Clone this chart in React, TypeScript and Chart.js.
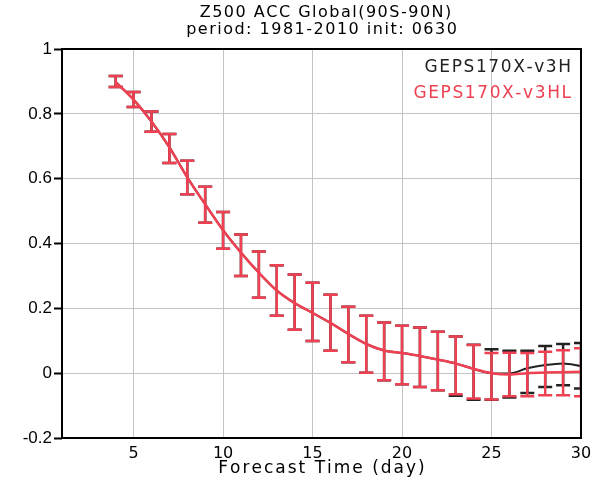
import { useEffect, useRef } from "react";
import { Chart, registerables } from "chart.js";

Chart.register(...registerables);

const days = [4, 5, 6, 7, 8, 9, 10, 11, 12, 13, 14, 15, 16, 17, 18, 19, 20, 21, 22, 23, 24, 25, 26, 27, 28, 29, 30];

// GEPS170X-v3HL (red)
const hlMean = [0.898, 0.844, 0.776, 0.697, 0.604, 0.521, 0.441, 0.372, 0.31, 0.255, 0.216, 0.186, 0.155, 0.121, 0.09, 0.07, 0.062, 0.053, 0.042, 0.03, 0.013, 0.0, -0.004, 0.0, 0.002, 0.003, 0.004];
const hlHigh = [0.917, 0.867, 0.807, 0.738, 0.655, 0.575, 0.497, 0.428, 0.375, 0.333, 0.304, 0.279, 0.242, 0.205, 0.177, 0.156, 0.146, 0.141, 0.128, 0.113, 0.087, 0.062, 0.063, 0.062, 0.066, 0.071, 0.077];
const hlLow = [0.883, 0.821, 0.745, 0.648, 0.552, 0.464, 0.384, 0.3, 0.233, 0.177, 0.134, 0.099, 0.069, 0.034, 0.001, -0.022, -0.034, -0.043, -0.053, -0.065, -0.078, -0.081, -0.071, -0.071, -0.068, -0.068, -0.071];

// GEPS170X-v3H (black)
const hMean = [0.898, 0.844, 0.776, 0.697, 0.604, 0.521, 0.441, 0.372, 0.31, 0.255, 0.216, 0.186, 0.155, 0.121, 0.09, 0.07, 0.062, 0.053, 0.042, 0.03, 0.013, 0.0, -0.001, 0.015, 0.025, 0.03, 0.022];
const hHigh = [0.917, 0.867, 0.807, 0.738, 0.655, 0.575, 0.497, 0.428, 0.375, 0.333, 0.304, 0.279, 0.242, 0.205, 0.177, 0.156, 0.146, 0.141, 0.128, 0.113, 0.088, 0.074, 0.069, 0.069, 0.084, 0.09, 0.093];
const hLow = [0.883, 0.821, 0.745, 0.648, 0.552, 0.464, 0.384, 0.3, 0.233, 0.177, 0.134, 0.099, 0.069, 0.034, 0.001, -0.022, -0.034, -0.043, -0.053, -0.07, -0.082, -0.082, -0.075, -0.061, -0.043, -0.037, -0.047];

const xTicks = [5, 10, 15, 20, 25, 30];
const yTicks = [-0.2, 0, 0.2, 0.4, 0.6, 0.8, 1];

const titleLines = ["Z500 ACC Global(90S-90N)", "period: 1981-2010 init: 0630"];
const legendNames = ["GEPS170X-v3H", "GEPS170X-v3HL"];
const xLabel = "Forecast Time (day)";

const RED = "#ef4152";
const BLACK = "#222222";
const GRADS_FONT = "'DejaVu Sans', sans-serif";

const errorBarPlugin = {
  id: "errorBars",
  afterDatasetDraw(chart: any, args: any) {
    const ds = chart.data.datasets[args.index];
    const eb = ds.errorBars;
    if (!eb) return;
    const { ctx, chartArea } = chart;
    const xs = chart.scales.x;
    const ys = chart.scales.y;
    ctx.save();
    ctx.beginPath();
    ctx.rect(chartArea.left, chartArea.top, chartArea.right - chartArea.left, chartArea.bottom - chartArea.top);
    ctx.clip();
    ctx.strokeStyle = eb.color;
    ctx.lineWidth = 2.5;
    const cap = 7;
    days.forEach((d, i) => {
      const px = xs.getPixelForValue(d);
      const yl = ys.getPixelForValue(eb.low[i]);
      const yh = ys.getPixelForValue(eb.high[i]);
      ctx.beginPath();
      ctx.moveTo(px, yl);
      ctx.lineTo(px, yh);
      ctx.moveTo(px - cap, yl);
      ctx.lineTo(px + cap, yl);
      ctx.moveTo(px - cap, yh);
      ctx.lineTo(px + cap, yh);
      ctx.stroke();
    });
    ctx.restore();
  },
};

function spacedText(ctx: any, text: string, x: number, y: number, spacing: number, align: string) {
  // draw text with letter spacing, handling alignment manually
  let total = 0;
  const widths = Array.from(text).map((ch) => ctx.measureText(ch).width);
  widths.forEach((w) => (total += w));
  total += spacing * (widths.length - 1);
  let start = x;
  if (align === "center") start = x - total / 2;
  else if (align === "right") start = x - total;
  ctx.textAlign = "left";
  let cur = start;
  Array.from(text).forEach((ch, i) => {
    ctx.fillText(ch, cur, y);
    cur += widths[i] + spacing;
  });
}

const decorPlugin = {
  id: "decor",
  afterDraw(chart: any) {
    const { ctx, chartArea } = chart;
    ctx.save();
    // frame
    ctx.strokeStyle = "#000";
    ctx.lineWidth = 2;
    ctx.strokeRect(chartArea.left, chartArea.top, chartArea.right - chartArea.left, chartArea.bottom - chartArea.top);
    const cx = (chartArea.left + chartArea.right) / 2;
    // title
    ctx.fillStyle = "#000";
    ctx.textBaseline = "middle";
    ctx.font = `16px ${GRADS_FONT}`;
    spacedText(ctx, titleLines[0], cx + 4, 13, 1.5, "center");
    spacedText(ctx, titleLines[1], cx, 30, 1.5, "center");
    // x label
    ctx.font = `17px ${GRADS_FONT}`;
    spacedText(ctx, xLabel, cx, 469, 2, "center");
    // legend
    ctx.font = `17px ${GRADS_FONT}`;
    ctx.fillStyle = BLACK;
    spacedText(ctx, legendNames[0], chartArea.right - 10, 68, 1.6, "right");
    ctx.fillStyle = RED;
    spacedText(ctx, legendNames[1], chartArea.right - 10, 94, 1.6, "right");
    ctx.restore();
  },
};

export default function App() {
  const ref = useRef<HTMLCanvasElement | null>(null);

  useEffect(() => {
    if (!ref.current) return;
    const chart = new Chart(ref.current, {
      type: "line",
      data: {
        datasets: [
          {
            label: legendNames[1],
            data: days.map((d, i) => ({ x: d, y: hlMean[i] })),
            borderColor: RED,
            borderWidth: 2.5,
            pointRadius: 0,
            cubicInterpolationMode: "monotone",
            errorBars: { low: hlLow, high: hlHigh, color: RED },
          } as any,
          {
            label: legendNames[0],
            data: days.map((d, i) => ({ x: d, y: hMean[i] })),
            borderColor: BLACK,
            borderWidth: 2,
            pointRadius: 0,
            cubicInterpolationMode: "monotone",
            errorBars: { low: hLow, high: hHigh, color: BLACK },
          } as any,
        ],
      },
      options: {
        animation: false,
        responsive: false,
        layout: { padding: { top: 49, right: 19, left: 0, bottom: 0 } },
        plugins: {
          legend: { display: false },
          title: { display: false },
          tooltip: { enabled: false },
        },
        scales: {
          x: {
            type: "linear",
            min: 1,
            max: 30,
            afterBuildTicks: (scale: any) => {
              scale.ticks = xTicks.map((v) => ({ value: v }));
            },
            afterFit: (scale: any) => {
              scale.height = 50;
            },
            grid: { color: "#c4c4c4", lineWidth: 1, drawTicks: false },
            border: { display: false },
            ticks: {
              color: "#000",
              font: { family: GRADS_FONT, size: 16 },
              padding: 6,
              maxRotation: 0,
              autoSkip: false,
            },
          },
          y: {
            type: "linear",
            min: -0.2,
            max: 1,
            afterBuildTicks: (scale: any) => {
              scale.ticks = yTicks.map((v) => ({ value: v }));
            },
            afterFit: (scale: any) => {
              scale.width = 62;
            },
            grid: { color: "#c4c4c4", lineWidth: 1, tickLength: 8, tickColor: "#000", tickWidth: 2 } as any,
            border: { display: false },
            ticks: {
              color: "#000",
              font: { family: "'Liberation Sans', Arial, sans-serif", size: 17 },
              padding: 2,
              callback: (v: any) => {
                const n = Math.round(Number(v) * 10) / 10;
                return n === 0 ? "0" : String(n);
              },
            },
          },
        },
      },
      plugins: [errorBarPlugin, decorPlugin],
    });
    return () => chart.destroy();
  }, []);

  return (
    <div style={{ position: "fixed", left: 0, top: 0, width: 600, height: 488, background: "#fff" }}>
      <canvas ref={ref} width={600} height={488} style={{ width: 600, height: 488 }} />
    </div>
  );
}
